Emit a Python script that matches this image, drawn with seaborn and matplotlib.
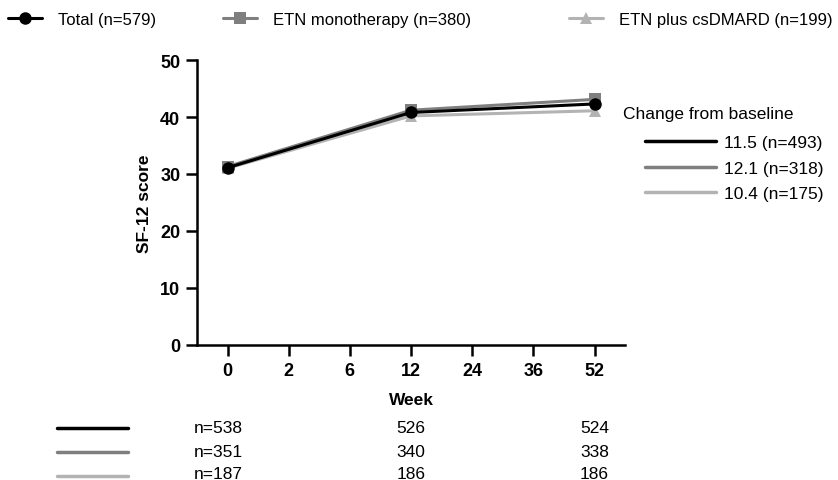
import matplotlib
matplotlib.use("Agg")
import matplotlib.pyplot as plt
import seaborn as sns
import pandas as pd
from matplotlib.lines import Line2D

# ---- data ----
week_ticks = ["0", "2", "6", "12", "24", "36", "52"]
measured_weeks = ["0", "12", "52"]
series_names = ["Total (n=579)", "ETN monotherapy (n=380)", "ETN plus csDMARD (n=199)"]
total_vals = [31.1, 40.8, 42.3]
mono_vals = [31.3, 41.2, 43.1]
plus_vals = [31.0, 40.2, 41.1]
change_title = "Change from baseline"
change_labels = ["11.5 (n=493)", "12.1 (n=318)", "10.4 (n=175)"]
n_total = ["n=538", "526", "524"]
n_mono = ["n=351", "340", "338"]
n_plus = ["n=187", "186", "186"]

colors = ["#000000", "#7f7f7f", "#b3b3b3"]
markers = ["o", "s", "^"]

sns.set_theme(style="ticks")
plt.rcParams["font.family"] = ["Liberation Sans", "DejaVu Sans"]
plt.rcParams["text.color"] = "black"
plt.rcParams["axes.labelcolor"] = "black"
plt.rcParams["xtick.color"] = "black"
plt.rcParams["ytick.color"] = "black"

FS = 12.5

fig = plt.figure(figsize=(8.38, 4.81), dpi=100)
ax = fig.add_axes([0.235, 0.281, 0.511, 0.592])

pos = [week_ticks.index(w) for w in measured_weeks]
vals = [total_vals, mono_vals, plus_vals]
rows = []
for name, v in zip(series_names, vals):
    for p, y in zip(pos, v):
        rows.append({"series": name, "x": p, "y": y})
df = pd.DataFrame(rows)

# draw lighter series first so Total sits on top
for i in [2, 1, 0]:
    sub = df[df["series"] == series_names[i]]
    sns.lineplot(data=sub, x="x", y="y", ax=ax, color=colors[i], marker=markers[i],
                 markersize=9 if i != 2 else 8, markeredgewidth=0, linewidth=2.2,
                 legend=False)

ax.set_xlim(-0.5, 6.5)
ax.set_ylim(0, 50)
ax.set_xticks(range(len(week_ticks)))
ax.set_xticklabels(week_ticks)
ax.set_yticks([0, 10, 20, 30, 40, 50])
for lab in ax.get_xticklabels() + ax.get_yticklabels():
    lab.set_fontweight("bold")
    lab.set_fontsize(13)
ax.tick_params(axis="both", direction="out", length=8, width=1.8, color="black", pad=4)
for s in ["left", "bottom"]:
    ax.spines[s].set_linewidth(1.8)
    ax.spines[s].set_color("black")
sns.despine(ax=ax)
ax.set_xlabel("Week", fontsize=FS, fontweight="bold", labelpad=10)
ax.set_ylabel("SF-12 score", fontsize=FS, fontweight="bold", labelpad=6)

# top legends
TFS = 12
top_x = [0.0095, 0.266, 0.679]
for i in range(3):
    h = Line2D([], [], color=colors[i], marker=markers[i], markersize=9, markeredgewidth=0, linewidth=2.2)
    fig.legend([h], [series_names[i]], loc="center left", bbox_to_anchor=(top_x[i], 0.958),
               frameon=False, fontsize=TFS, handlelength=2.04, handletextpad=0.96, borderaxespad=0,
               borderpad=0)

# right legend: change from baseline
fig.text(623 / 838, 1 - 114 / 481, change_title, fontsize=FS, ha="left", va="center")
hs = [Line2D([], [], color=c, linewidth=2.5) for c in colors]
fig.legend(hs, change_labels, loc="upper left",
           bbox_to_anchor=(645 / 838, 1 - 136 / 481), frameon=False, fontsize=FS,
           handlelength=4.1, handletextpad=0.46, labelspacing=0.6, borderaxespad=0,
           borderpad=0)

# bottom n table lines
hb = [Line2D([], [], color=c, linewidth=2.5) for c in colors]
fig.legend(hb, ["", "", ""], loc="upper left", bbox_to_anchor=(57 / 838, 0.1204),
           frameon=False, fontsize=FS, handlelength=4.1, labelspacing=0.5, borderaxespad=0,
           borderpad=0.0)

tr = ax.get_xaxis_transform()
row_y = [-0.292, -0.373, -0.452]
for ry, nvals in zip(row_y, [n_total, n_mono, n_plus]):
    for j, (p, t) in enumerate(zip(pos, nvals)):
        if j == 0:
            ax.text(p - 0.55, ry, t, transform=tr, ha="left", va="center", fontsize=FS, clip_on=False)
        else:
            ax.text(p, ry, t, transform=tr, ha="center", va="center", fontsize=FS, clip_on=False)

fig.savefig("out.png", dpi=100)
